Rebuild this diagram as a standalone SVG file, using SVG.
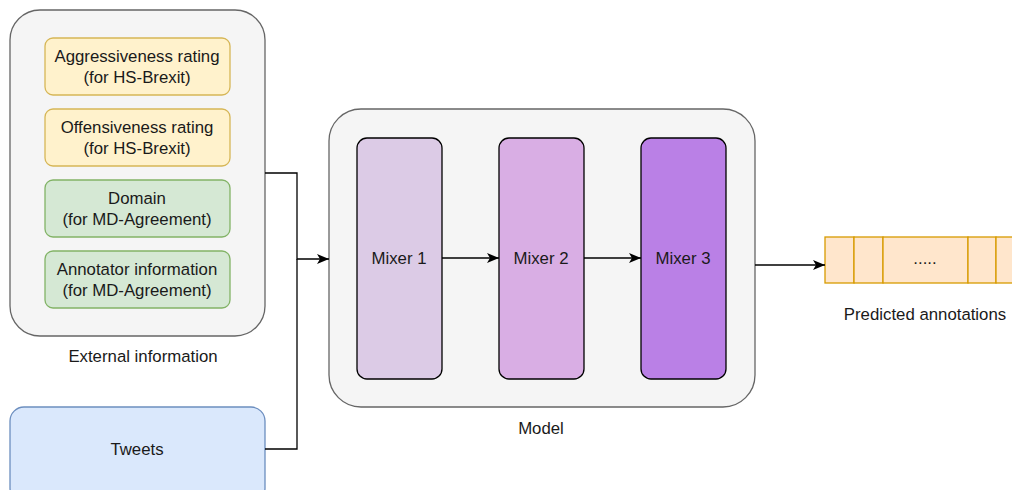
<svg xmlns="http://www.w3.org/2000/svg" width="1012" height="490" viewBox="0 0 1012 490">
<style>
text{font-family:"Liberation Sans",Arial,sans-serif;font-size:16.8px;fill:#1a1a1a;text-anchor:middle}
.cont{fill:#f5f5f5;stroke:#666;stroke-width:1.3}
.yel{fill:#fff2cc;stroke:#d6b656;stroke-width:1.3}
.grn{fill:#d5e8d4;stroke:#82b366;stroke-width:1.3}
.blu{fill:#dae8fc;stroke:#6c8ebf;stroke-width:1.3}
.mix{stroke:#000;stroke-width:1.3}
.cell{fill:#ffe6cc;stroke:#d79b00;stroke-width:1.3}
.conn{fill:none;stroke:#000;stroke-width:1.3}
</style>
<defs>
<marker id="arr" markerWidth="13" markerHeight="12" refX="12" refY="6" orient="auto" markerUnits="userSpaceOnUse">
<path d="M0,1 L12,6 L0,11 L3,6 Z" fill="#000"/>
</marker>
</defs>
<g id="external">
<rect class="cont" x="10" y="10" width="255" height="326" rx="30"/>
<text x="143" y="362">External information</text>
</g>
<g id="aggr">
<rect class="yel" x="45" y="38" width="185" height="57" rx="8"/>
<text x="137" y="62">Aggressiveness rating</text>
<text x="137" y="83">(for HS-Brexit)</text>
</g>
<g id="offe">
<rect class="yel" x="45" y="109" width="185" height="57" rx="8"/>
<text x="137" y="133">Offensiveness rating</text>
<text x="137" y="154">(for HS-Brexit)</text>
</g>
<g id="domain">
<rect class="grn" x="45" y="180" width="185" height="57" rx="8"/>
<text x="137" y="204">Domain</text>
<text x="137" y="225">(for MD-Agreement)</text>
</g>
<g id="annot">
<rect class="grn" x="45" y="251" width="185" height="57" rx="8"/>
<text x="137" y="275">Annotator information</text>
<text x="137" y="296">(for MD-Agreement)</text>
</g>
<g id="tweets">
<rect class="blu" x="10" y="407" width="255" height="95" rx="14"/>
<text x="137" y="455">Tweets</text>
</g>
<g id="model">
<rect class="cont" x="329" y="109" width="426" height="298" rx="32"/>
<text x="541" y="434">Model</text>
</g>
<g id="mixer1">
<rect class="mix" x="357" y="138" width="85" height="241" rx="10" fill="#dccbe6"/>
<text x="399" y="264">Mixer 1</text>
</g>
<g id="mixer2">
<rect class="mix" x="499" y="138" width="85" height="241" rx="10" fill="#d9aee4"/>
<text x="541" y="264">Mixer 2</text>
</g>
<g id="mixer3">
<rect class="mix" x="641" y="138" width="85" height="241" rx="10" fill="#ba80e6"/>
<text x="683" y="264">Mixer 3</text>
</g>
<g id="output">
<rect class="cell" x="825" y="237" width="29" height="46"/>
<rect class="cell" x="854" y="237" width="29" height="46"/>
<rect class="cell" x="883" y="237" width="85" height="46"/>
<rect class="cell" x="968" y="237" width="28" height="46"/>
<rect class="cell" x="996" y="237" width="29" height="46"/>
<text x="925" y="264">.....</text>
<text x="925" y="320">Predicted annotations</text>
</g>
<g id="connectors">
<polyline class="conn" points="265,173 297,173 297,259 329,259" marker-end="url(#arr)"/>
<polyline class="conn" points="265,449 297,449 297,259"/>
<line class="conn" x1="442" y1="258" x2="499" y2="258" marker-end="url(#arr)"/>
<line class="conn" x1="584" y1="258" x2="641" y2="258" marker-end="url(#arr)"/>
<line class="conn" x1="755" y1="265" x2="825" y2="265" marker-end="url(#arr)"/>
</g>
</svg>
